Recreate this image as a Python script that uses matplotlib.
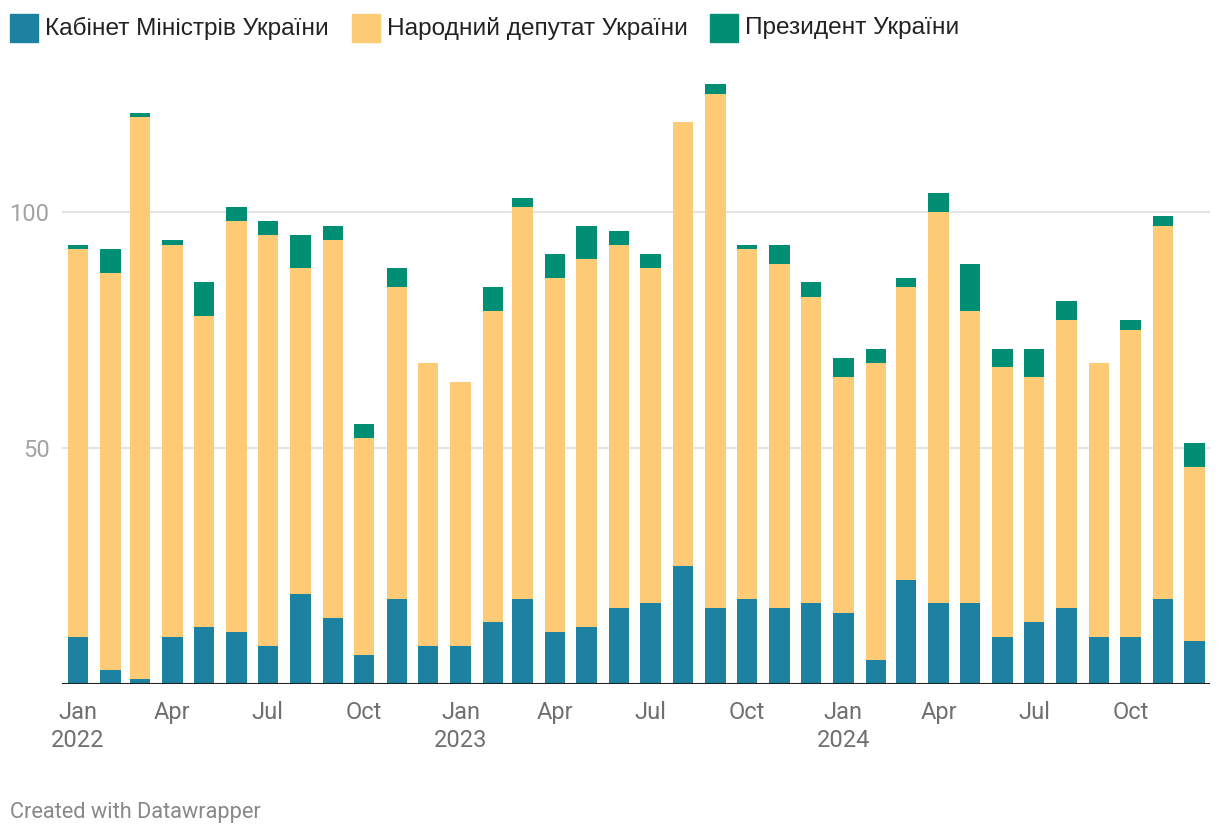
import pandas as pd
import matplotlib
matplotlib.use('Agg')
import matplotlib.pyplot as plt
import matplotlib.dates as mdates
from matplotlib.patches import Rectangle

# monthly counts, Jan 2022 .. Dec 2024
months = pd.date_range('2022-01-01', periods=36, freq='MS')
cabinet = [10, 3, 1, 10, 12, 11, 8, 19, 14, 6, 18, 8,
           8, 13, 18, 11, 12, 16, 17, 25, 16, 18, 16, 17,
           15, 5, 22, 17, 17, 10, 13, 16, 10, 10, 18, 9]
deputies = [82, 84, 119, 83, 66, 87, 87, 69, 80, 46, 66, 60,
            56, 66, 83, 75, 78, 77, 71, 94, 109, 74, 73, 65,
            50, 63, 62, 83, 62, 57, 52, 61, 58, 65, 79, 37]
president = [1, 5, 1, 1, 7, 3, 3, 7, 3, 3, 4, 0,
             0, 5, 2, 5, 7, 3, 3, 0, 2, 1, 4, 3,
             4, 3, 2, 4, 10, 4, 6, 4, 0, 2, 2, 5]

series_names = ['Кабінет Міністрів України', 'Народний депутат України', 'Президент України']
colors = ['#1d81a2', '#fdca76', '#008f74']

tick_months = ['2022-01-01', '2022-04-01', '2022-07-01', '2022-10-01',
               '2023-01-01', '2023-04-01', '2023-07-01', '2023-10-01',
               '2024-01-01', '2024-04-01', '2024-07-01', '2024-10-01']
tick_labels = ['Jan\n2022', 'Apr', 'Jul', 'Oct',
               'Jan\n2023', 'Apr', 'Jul', 'Oct',
               'Jan\n2024', 'Apr', 'Jul', 'Oct']

fig = plt.figure(figsize=(12.2, 8.38), dpi=100)
ax = fig.add_axes([62 / 1220, 1 - 683.7 / 838, 1148 / 1220, 613.6 / 838])

x = mdates.date2num(months)
bottom2 = [a + b for a, b in zip(cabinet, deputies)]
ax.bar(x, cabinet, width=19.5, color=colors[0], zorder=3)
ax.bar(x, deputies, width=19.5, bottom=cabinet, color=colors[1], zorder=3)
ax.bar(x, president, width=19.5, bottom=bottom2, color=colors[2], zorder=3)

ax.set_xlim(x[0] - 15.3, x[-1] + 14.8)
ax.set_ylim(0, 130)

for s in ax.spines.values():
    s.set_visible(False)
ax.axhline(0, color='#222222', lw=1.5, zorder=4)

ax.set_yticks([50, 100])
ax.set_yticklabels(['50', '100'])
ax.yaxis.grid(True, color='#e4e4e4', lw=1.5, zorder=0)
ax.tick_params(axis='y', length=0, pad=9, labelsize=17, labelcolor='#a3a3a3')
for t in ax.get_yticklabels():
    t.set_fontfamily('Roboto')

ax.set_xticks(mdates.date2num(pd.to_datetime(tick_months)))
ax.set_xticklabels(tick_labels, fontfamily='Roboto', linespacing=1.3)
ax.tick_params(axis='x', length=0, pad=12.5, labelsize=17, labelcolor='#707070')

# legend
leg_x = [10, 352, 710]
for name, c, lx in zip(series_names, colors, leg_x):
    fig.add_artist(Rectangle((lx / 1220, 1 - 42 / 838), 28 / 1220, 28 / 838,
                             transform=fig.transFigure, color=c))
    fig.text((lx + 35) / 1220, 1 - 28 / 838, name, fontsize=17.6,
             family=['Liberation Sans', 'DejaVu Sans'], color='#222222', va='center')

fig.text(10 / 1220, 1 - 812 / 838, 'Created with Datawrapper', fontsize=15.7,
         family='Roboto', color='#888888', va='center')

fig.savefig('out.png', dpi=100)
